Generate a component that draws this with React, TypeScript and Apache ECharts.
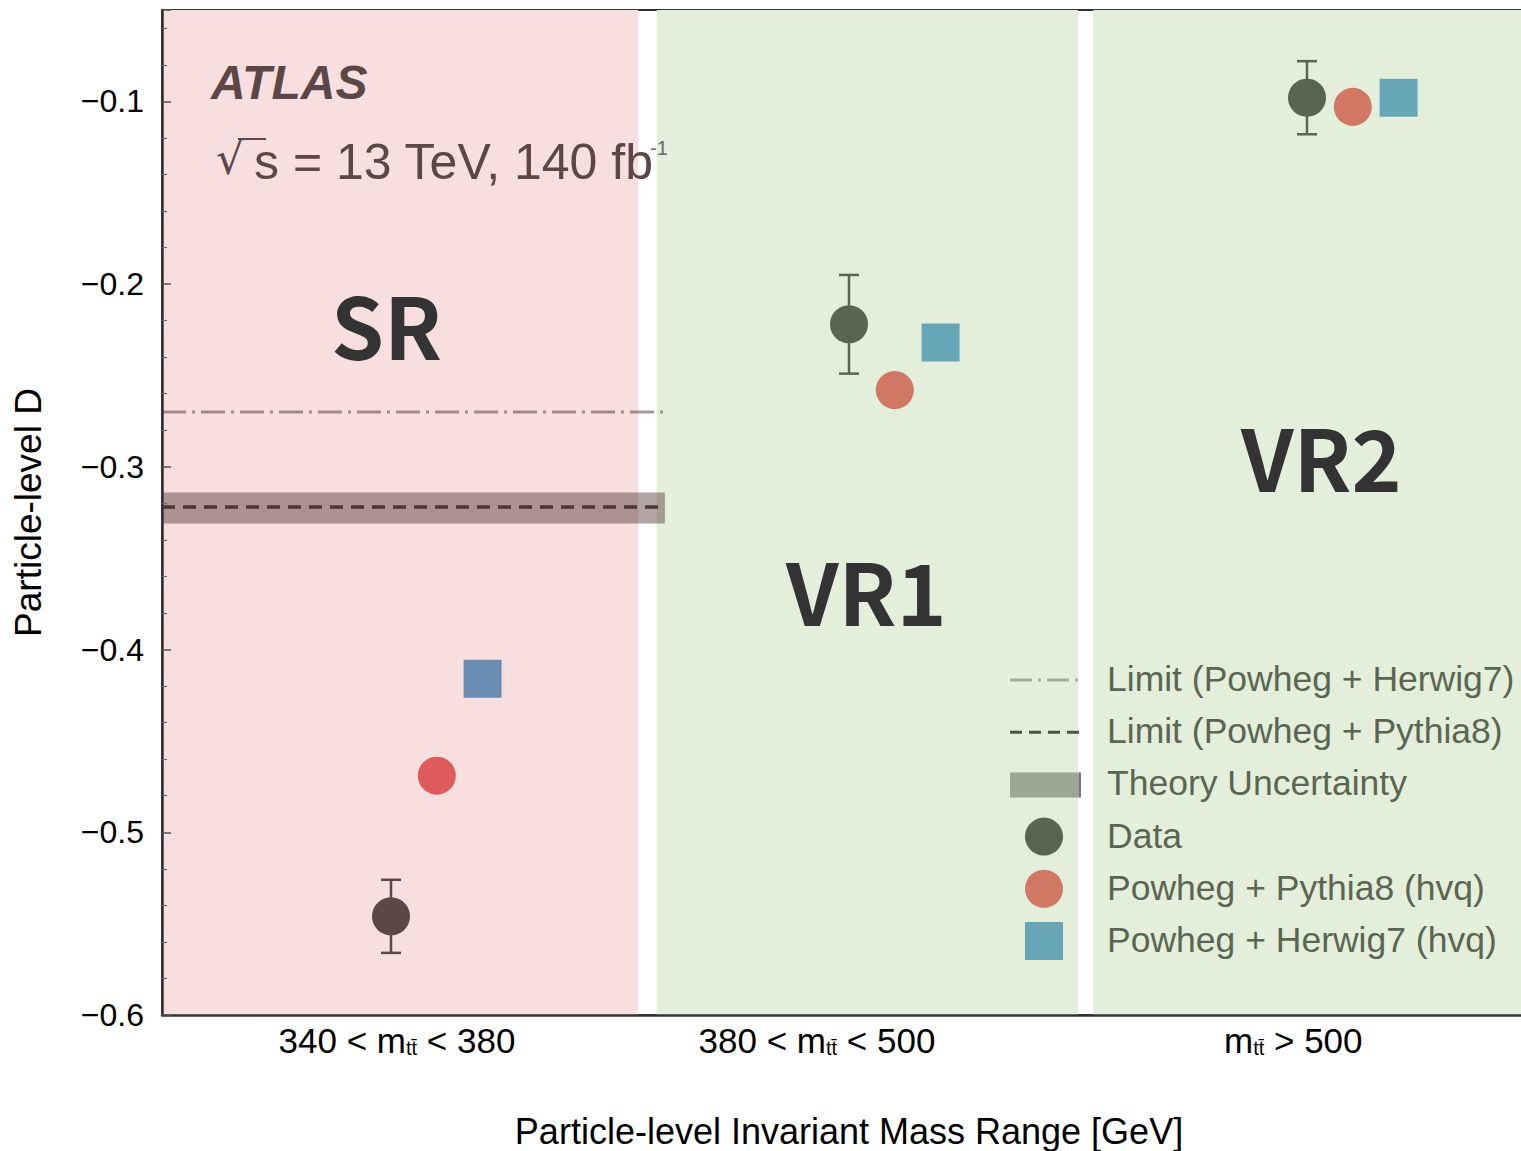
import React, { useEffect, useRef } from "react";
import * as echarts from "echarts";

// ---------- data ----------
const categoryLabels = ["340 < m{s|tt̄} < 380", "380 < m{s|tt̄} < 500", "m{s|tt̄} > 500"];
const categoryLabelPos = [0.013, 0.93, 1.97];
const categoryX = [0, 1, 2];
const regionNames = ["SR", "VR1", "VR2"];
const regionRanges = [
  [-0.5, 0.54],
  [0.58, 1.5],
  [1.533, 2.5],
];
const regionFill = ["#f7dfdf", "#e3efdb", "#e3efdb"];

const dataValues = [-0.546, -0.222, -0.098];
const dataErrors = [0.02, 0.027, 0.02];
const pythiaValues = [-0.469, -0.258, -0.103];
const herwigValues = [-0.416, -0.232, -0.098];
const pythiaOffset = 0.1;
const herwigOffset = 0.2;

const dataColors = ["#5c4747", "#5a654f", "#5a654f"];
const pythiaColors = ["#e05c5c", "#d07864", "#d07864"];
const herwigColors = ["#6b8db3", "#67a6b7", "#67a6b7"];

const limitXRange = [-0.5, 0.598];
const limitHerwig7 = -0.27;
const limitPythia8 = -0.322;
const theoryBand = [-0.331, -0.314];

const yMin = -0.6;
const yMax = -0.05;
const yInterval = 0.1;

const legendLabels = [
  "Limit (Powheg + Herwig7)",
  "Limit (Powheg + Pythia8)",
  "Theory Uncertainty",
  "Data",
  "Powheg + Pythia8 (hvq)",
  "Powheg + Herwig7 (hvq)",
];

const FONT = "'Liberation Sans', Arial, sans-serif";

export default function App() {
  const ref = useRef<HTMLDivElement>(null);

  useEffect(() => {
    document.body.style.margin = "0";
    if (!ref.current) return;
    const chart = echarts.init(ref.current, undefined, { renderer: "svg" });

    const legendX = 1010;
    const legendTextX = 1107;
    const legendY0 = 680;
    const legendDY = 52.2;
    const legendColor = "#5a6652";

    const legendGraphics: any[] = [];
    legendLabels.forEach((lab, i) => {
      const cy = legendY0 + i * legendDY;
      legendGraphics.push({
        type: "text",
        left: legendTextX,
        top: cy - 19,
        style: { text: lab, font: `35.5px ${FONT}`, fill: legendColor },
        z: 20,
      });
    });
    legendGraphics.push(
      {
        type: "line",
        shape: { x1: legendX, y1: legendY0, x2: legendX + 68, y2: legendY0 },
        style: { stroke: "#a3ad9b", lineWidth: 3, lineDash: [22, 6, 3, 6] },
        z: 20,
      },
      {
        type: "line",
        shape: { x1: legendX, y1: legendY0 + legendDY, x2: legendX + 72, y2: legendY0 + legendDY },
        style: { stroke: "#4b5445", lineWidth: 3, lineDash: [12, 7] },
        z: 20,
      },
      {
        type: "rect",
        shape: { x: legendX, y: legendY0 + 2 * legendDY - 12, width: 70, height: 25 },
        style: { fill: "#9ca892" },
        z: 20,
      },
      {
        type: "rect",
        shape: { x: legendX + 69, y: legendY0 + 2 * legendDY - 12, width: 2, height: 25 },
        style: { fill: "#7b7385" },
        z: 20,
      },
      {
        type: "circle",
        shape: { cx: legendX + 34, cy: legendY0 + 3 * legendDY, r: 19 },
        style: { fill: dataColors[1] },
        z: 20,
      },
      {
        type: "circle",
        shape: { cx: legendX + 34, cy: legendY0 + 4 * legendDY, r: 19 },
        style: { fill: pythiaColors[1] },
        z: 20,
      },
      {
        type: "rect",
        shape: { x: legendX + 15, y: legendY0 + 5 * legendDY - 19, width: 38, height: 38 },
        style: { fill: herwigColors[1] },
        z: 20,
      }
    );

    const option: any = {
      animation: false,
      grid: {
        left: 162,
        top: 10,
        width: 1374,
        height: 1005,
        outerBoundsMode: "none",
        containLabel: false,
        show: true,
        borderColor: "#333",
        borderWidth: 2,
        backgroundColor: "transparent",
      },
      xAxis: {
        type: "value",
        min: -0.5,
        max: 2.5,
        z: 5,
        splitLine: { show: false },
        axisTick: { show: false },
        axisLine: { show: true, onZero: false, lineStyle: { color: "#333", width: 2.5 } },
        axisLabel: {
          customValues: categoryLabelPos,
          margin: 5,
          color: "#000",
          fontFamily: FONT,
          fontSize: 35,
          lineHeight: 40,
          formatter: (v: number) => {
            const i = categoryLabelPos.findIndex((p) => Math.abs(p - v) < 1e-6);
            return i >= 0 ? categoryLabels[i] : "";
          },
          rich: {
            s: { fontSize: 20, fontFamily: FONT, color: "#000", padding: [16, 0, 0, 0], lineHeight: 40 },
          },
        },
        name: "Particle-level Invariant Mass Range [GeV]",
        nameLocation: "middle",
        nameGap: 98,
        nameTextStyle: { color: "#000", fontFamily: FONT, fontSize: 36 },
      },
      yAxis: {
        type: "value",
        min: yMin,
        max: yMax,
        interval: yInterval,
        z: 5,
        splitLine: { show: false },
        axisLine: { show: true, onZero: false, lineStyle: { color: "#333", width: 2.5 } },
        axisTick: { show: true, inside: true, length: 9, lineStyle: { color: "#555", width: 1.5 } },
        minorTick: { show: true, splitNumber: 5, length: 5, lineStyle: { color: "#666", width: 1.2 } },
        axisLabel: {
          showMaxLabel: false,
          margin: 18,
          color: "#000",
          fontFamily: FONT,
          fontSize: 32,
          formatter: (v: number) => (v < 0 ? "\u2212" : "") + Math.abs(v).toFixed(1),
        },
        name: "Particle-level D",
        nameLocation: "middle",
        nameGap: 115,
        nameTextStyle: { color: "#000", fontFamily: FONT, fontSize: 37 },
      },
      graphic: [
        {
          type: "text",
          left: 211,
          top: 58,
          style: {
            text: "ATLAS",
            font: `italic bold 48px ${FONT}`,
            fill: "#5c4646",
          },
          z: 20,
        },
        {
          type: "text",
          left: 216,
          top: 136,
          style: {
            text: "√",
            font: `44px 'DejaVu Sans', sans-serif`,
            fill: "#5c4646",
          },
          z: 20,
        },
        {
          type: "line",
          shape: { x1: 238, y1: 139, x2: 266, y2: 139 },
          style: { stroke: "#5c4646", lineWidth: 2 },
          z: 20,
        },
        {
          type: "text",
          left: 254,
          top: 137,
          style: {
            text: "s = 13 TeV, 140 fb",
            font: `50px ${FONT}`,
            fill: "#5c4646",
          },
          z: 20,
        },
        {
          type: "text",
          left: 650,
          top: 138,
          style: { text: "-1", font: `20px ${FONT}`, fill: "#6a6a6a" },
          z: 20,
        },
        ...regionNames.map((name, i) => ({
          type: "text",
          left: [331, 786, 1241][i],
          top: [280, 546, 412][i],
          style: {
            text: name,
            font: `bold 85px 'Noto Sans CJK SC', 'Noto Sans', sans-serif`,
            fill: "#333333",
          },
          z: 20,
        })),
        ...legendGraphics,
      ],
      series: [
        {
          type: "line",
          name: "regions",
          data: [],
          z: 0,
          silent: true,
          markArea: {
            silent: true,
            data: regionRanges.map((r, i) => [
              { xAxis: r[0], itemStyle: { color: regionFill[i] } },
              { xAxis: r[1] },
            ]),
          },
        },
        {
          type: "line",
          name: "Theory Uncertainty",
          data: [],
          z: 1,
          silent: true,
          markArea: {
            silent: true,
            itemStyle: { color: "rgba(72,40,40,0.42)" },
            data: [[
              { coord: [limitXRange[0], theoryBand[1]] },
              { coord: [limitXRange[1], theoryBand[0]] },
            ]],
          },
        },
        {
          type: "line",
          name: "Limit (Powheg + Herwig7)",
          data: limitXRange.map((x) => [x, limitHerwig7]),
          symbol: "none",
          z: 2,
          lineStyle: { color: "rgba(80,52,52,0.5)", width: 3, type: [24, 6, 3, 6] },
        },
        {
          type: "line",
          name: "Limit (Powheg + Pythia8)",
          data: limitXRange.map((x) => [x, limitPythia8]),
          symbol: "none",
          z: 2,
          lineStyle: { color: "#4d3636", width: 3.5, type: [13, 8] },
        },
        {
          type: "custom",
          name: "Data errors",
          z: 3,
          data: categoryX.map((x, i) => [x, dataValues[i] - dataErrors[i], dataValues[i] + dataErrors[i]]),
          renderItem: (params: any, api: any) => {
            const x = api.value(0);
            const lo = api.coord([x, api.value(1)]);
            const hi = api.coord([x, api.value(2)]);
            const c = dataColors[params.dataIndex];
            const hw = 10;
            return {
              type: "group",
              children: [
                { type: "line", shape: { x1: lo[0], y1: lo[1], x2: hi[0], y2: hi[1] }, style: { stroke: c, lineWidth: 2.5 } },
                { type: "line", shape: { x1: lo[0] - hw, y1: lo[1], x2: lo[0] + hw, y2: lo[1] }, style: { stroke: c, lineWidth: 2.5 } },
                { type: "line", shape: { x1: hi[0] - hw, y1: hi[1], x2: hi[0] + hw, y2: hi[1] }, style: { stroke: c, lineWidth: 2.5 } },
              ],
            };
          },
        },
        {
          type: "scatter",
          name: "Data",
          z: 4,
          symbol: "circle",
          symbolSize: 38,
          data: categoryX.map((x, i) => ({ value: [x, dataValues[i]], itemStyle: { color: dataColors[i], opacity: 1 } })),
        },
        {
          type: "scatter",
          name: "Powheg + Pythia8 (hvq)",
          z: 4,
          symbol: "circle",
          symbolSize: 38,
          data: categoryX.map((x, i) => ({ value: [x + pythiaOffset, pythiaValues[i]], itemStyle: { color: pythiaColors[i], opacity: 1 } })),
        },
        {
          type: "scatter",
          name: "Powheg + Herwig7 (hvq)",
          z: 4,
          symbol: "rect",
          symbolSize: 38,
          data: categoryX.map((x, i) => ({ value: [x + herwigOffset, herwigValues[i]], itemStyle: { color: herwigColors[i], opacity: 1 } })),
        },
      ],
    };

    chart.setOption(option);
    return () => chart.dispose();
  }, []);

  return <div ref={ref} style={{ width: 1521, height: 1151 }} />;
}
